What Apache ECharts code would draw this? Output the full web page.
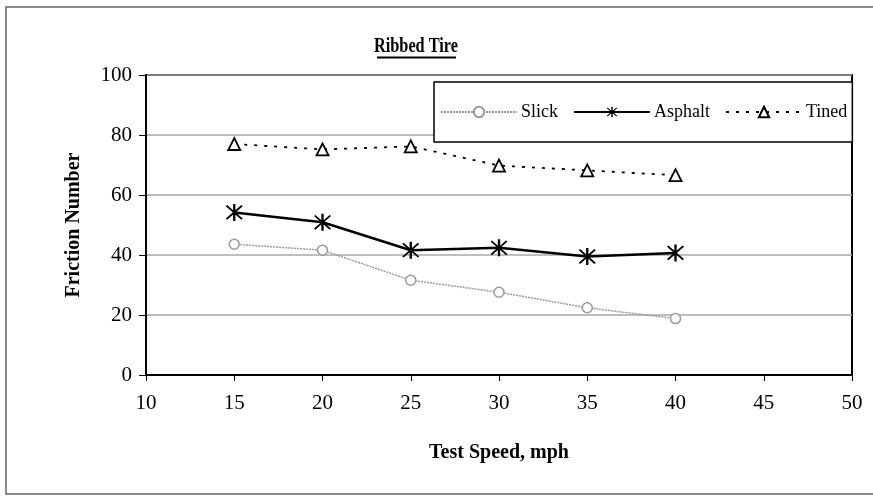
<!DOCTYPE html>
<html>
<head>
<meta charset="utf-8">
<script src="https://cdn.jsdelivr.net/npm/echarts@6/dist/echarts.min.js"></script>
<style>
  html, body { margin: 0; padding: 0; background: #fff; }
  #chart { width: 873px; height: 498px; }
</style>
</head>
<body>
<div id="chart"></div>
<script>
// Test speeds (mph) and friction numbers per surface
var speeds = [15, 20, 25, 30, 35, 40];
var slick = [43.6, 41.6, 31.6, 27.6, 22.4, 18.8];
var asphalt = [54.2, 50.9, 41.6, 42.4, 39.5, 40.7];
var tined = [77.0, 75.2, 76.2, 69.8, 68.2, 66.6];

var seriesNames = ['Slick', 'Asphalt', 'Tined'];
var titleText = 'Ribbed Tire';
var xAxisTitle = 'Test Speed, mph';
var yAxisTitle = 'Friction Number';

var FONT = '"Liberation Serif", "Times New Roman", serif';

function pairs(xs, ys) {
  return xs.map(function (x, i) { return [x, ys[i]]; });
}

// six-armed asterisk marker built from three thin bars
var asterisk = 'path://' +
  'M-1.2,-10 L1.2,-10 L1.2,10 L-1.2,10 Z ' +
  'M-7.3,-8.7 L8.7,7.3 L7.3,8.7 L-8.7,-7.3 Z ' +
  'M7.3,-8.7 L8.7,-7.3 L-7.3,8.7 L-8.7,7.3 Z';

var chart = echarts.init(document.getElementById('chart'), null, { renderer: 'canvas' });

chart.setOption({
  animation: false,
  backgroundColor: '#fff',
  graphic: [
    {
      type: 'rect',
      shape: { x: 6, y: 7, width: 900, height: 487 },
      style: { fill: null, stroke: '#666', lineWidth: 1.5 },
      silent: true
    },
    {
      // condensed bold heading
      type: 'text',
      x: 416,
      y: 46,
      scaleX: 0.74,
      style: {
        text: titleText,
        font: 'bold 22px ' + FONT,
        fill: '#000',
        align: 'center',
        verticalAlign: 'middle'
      },
      silent: true
    },
    {
      type: 'line',
      shape: { x1: 377, y1: 57.5, x2: 456, y2: 57.5 },
      style: { stroke: '#000', lineWidth: 1.8 },
      silent: true
    }
  ],
  legend: {
    data: seriesNames,
    left: 434,
    top: 82,
    padding: [21, 5, 21, 6],
    itemGap: 15,
    itemWidth: 76,
    itemHeight: 13,
    borderColor: '#000',
    borderWidth: 1.5,
    backgroundColor: '#fff',
    textStyle: { fontFamily: FONT, fontSize: 18, color: '#000', padding: [0, 0, 0, -1] }
  },
  grid: {
    left: 146,
    right: 21,
    top: 75,
    bottom: 123,
    show: true,
    borderColor: '#000',
    borderWidth: 2,
    containLabel: false
  },
  xAxis: {
    type: 'value',
    min: 10,
    max: 50,
    interval: 5,
    name: xAxisTitle,
    nameLocation: 'middle',
    nameGap: 68,
    nameTextStyle: { fontFamily: FONT, fontWeight: 'bold', fontSize: 20, color: '#000' },
    axisLine: { show: true, lineStyle: { color: '#000', width: 2 } },
    axisTick: { show: true, inside: false, length: 6, lineStyle: { color: '#000', width: 1 } },
    axisLabel: { fontFamily: FONT, fontSize: 21, color: '#000', margin: 18 },
    splitLine: { show: false }
  },
  yAxis: {
    type: 'value',
    min: 0,
    max: 100,
    interval: 20,
    name: yAxisTitle,
    nameLocation: 'middle',
    nameGap: 62,
    nameRotate: 90,
    nameTextStyle: { fontFamily: FONT, fontWeight: 'bold', fontSize: 20, color: '#000' },
    axisLine: { show: true, lineStyle: { color: '#000', width: 2 } },
    axisTick: { show: true, inside: false, length: 7, lineStyle: { color: '#000', width: 1 } },
    axisLabel: { fontFamily: FONT, fontSize: 21, color: '#000', margin: 14 },
    splitLine: { show: true, lineStyle: { color: '#a8a8a8', width: 1.5 } }
  },
  series: [
    {
      name: 'Slick',
      type: 'line',
      data: pairs(speeds, slick),
      symbol: 'circle',
      symbolSize: 10,
      itemStyle: { color: '#fff', borderColor: '#9a9a9a', borderWidth: 1.5 },
      lineStyle: { color: '#9a9a9a', width: 1.5, type: [2, 1] },
      z: 3
    },
    {
      name: 'Asphalt',
      type: 'line',
      data: pairs(speeds, asphalt),
      symbol: asterisk,
      symbolSize: 17,
      itemStyle: { color: '#000', borderColor: '#000', borderWidth: 0 },
      lineStyle: { color: '#000', width: 2.5, type: 'solid' },
      z: 4
    },
    {
      name: 'Tined',
      type: 'line',
      data: pairs(speeds, tined),
      symbol: 'triangle',
      symbolSize: 12,
      itemStyle: { color: '#fff', borderColor: '#000', borderWidth: 1.8 },
      lineStyle: { color: '#000', width: 1.8, type: [3, 7] },
      z: 3
    }
  ]
});
</script>
</body>
</html>
